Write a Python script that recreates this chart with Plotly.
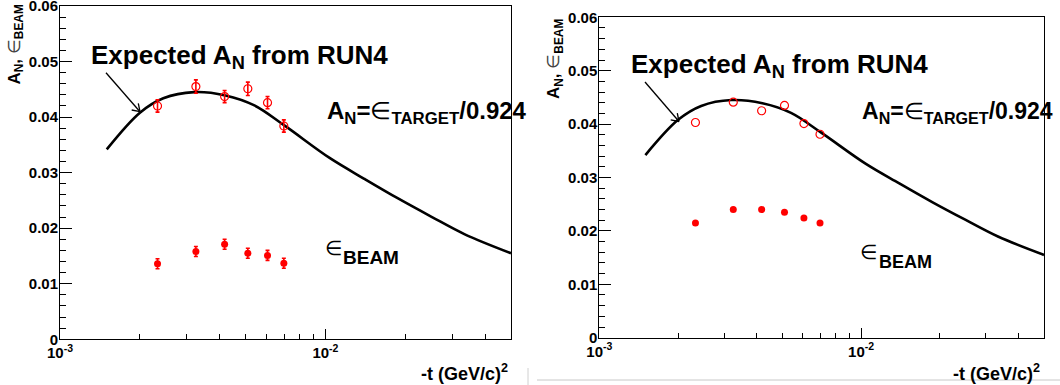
import plotly.graph_objects as go

W, H = 1060, 385

# ---------------- data ----------------
t_bins = [2.33e-3, 3.25e-3, 4.17e-3, 5.10e-3, 6.05e-3, 6.97e-3]

left_target = [0.0420, 0.0455, 0.0437, 0.0451, 0.0426, 0.0384]
left_target_err = [0.0011, 0.0012, 0.0011, 0.0012, 0.0011, 0.0011]
left_beam = [0.0136, 0.0158, 0.0171, 0.0155, 0.0151, 0.0137]
left_beam_err = [0.0009, 0.0009, 0.0009, 0.0009, 0.0009, 0.0009]

right_target = [0.0403, 0.0441, 0.0425, 0.0435, 0.0401, 0.0381]
right_beam = [0.0215, 0.0240, 0.0240, 0.0235, 0.0224, 0.0215]

curve_t = [1.5e-3, 2.0e-3, 2.45e-3, 3.2e-3, 4.2e-3, 5.4e-3, 7.0e-3,
           1.04e-2, 1.4e-2, 1.87e-2, 2.5e-2, 3.35e-2, 5.0e-2]
curve_an = [0.0342, 0.0408, 0.0434, 0.0445, 0.0439, 0.0421, 0.0385,
            0.0326, 0.0289, 0.0254, 0.0221, 0.0189, 0.0155]

x_major = [1e-3, 1e-2]
x_major_text = ["10<sup>-3</sup>", "10<sup>-2</sup>"]
x_minor = [2e-3, 3e-3, 4e-3, 5e-3, 6e-3, 7e-3, 8e-3, 9e-3, 2e-2, 3e-2, 4e-2]

FONT = "Liberation Sans"
RED = "#ff0000"


def px(x, y):
    return x / W, 1 - y / H


fig = go.Figure()

# ---------------- traces ----------------
for xa, ya in (("x", "y"), ("x2", "y2")):
    fig.add_trace(go.Scatter(x=curve_t, y=curve_an, mode="lines",
                             line=dict(color="black", width=2.6, shape="spline", smoothing=1.0),
                             xaxis=xa, yaxis=ya, showlegend=False, hoverinfo="skip"))

fig.add_trace(go.Scatter(x=t_bins, y=left_target, mode="markers",
                         marker=dict(symbol="circle-open", size=8, color=RED, line=dict(width=1.2, color=RED)),
                         error_y=dict(type="data", array=left_target_err, color=RED, thickness=1.6, width=2),
                         xaxis="x", yaxis="y", showlegend=False))
fig.add_trace(go.Scatter(x=t_bins, y=left_beam, mode="markers",
                         marker=dict(symbol="circle", size=7, color=RED),
                         error_y=dict(type="data", array=left_beam_err, color=RED, thickness=1.6, width=2),
                         xaxis="x", yaxis="y", showlegend=False))
fig.add_trace(go.Scatter(x=t_bins, y=right_target, mode="markers",
                         marker=dict(symbol="circle-open", size=8, color=RED, line=dict(width=1.2, color=RED)),
                         xaxis="x2", yaxis="y2", showlegend=False))
fig.add_trace(go.Scatter(x=t_bins, y=right_beam, mode="markers",
                         marker=dict(symbol="circle", size=7, color=RED),
                         xaxis="x2", yaxis="y2", showlegend=False))

# ---------------- axes ----------------
def xaxis(domain, anchor):
    return dict(type="log", range=[-3, -1.30103], domain=domain, anchor=anchor,
                tickmode="array", tickvals=x_major, ticktext=x_major_text,
                ticks="inside", ticklen=10, tickwidth=1, tickcolor="black",
                minor=dict(tickmode="array", tickvals=x_minor, ticks="inside", ticklen=5,
                           tickwidth=1, tickcolor="black", showgrid=False),
                showline=True, linecolor="black", linewidth=1, mirror=True,
                showgrid=False, zeroline=False, automargin=False, ticklabeloverflow="allow",
                tickfont=dict(family=FONT, size=15, color="black", weight="bold"))


def yaxis(domain, anchor):
    return dict(range=[0, 0.06], domain=domain, anchor=anchor,
                tickmode="linear", tick0=0, dtick=0.01,
                ticks="inside", ticklen=12, tickwidth=1, tickcolor="black",
                minor=dict(tickmode="linear", dtick=0.002, ticks="inside", ticklen=6,
                           tickwidth=1, tickcolor="black", showgrid=False),
                showline=True, linecolor="black", linewidth=1, mirror=True,
                showgrid=False, zeroline=False, ticklabelstandoff=-2, automargin=False,
                ticklabeloverflow="allow",
                tickfont=dict(family=FONT, size=15, color="black", weight="bold"))


fig.update_layout(
    width=W, height=H, margin=dict(l=0, r=0, t=0, b=0, pad=0, autoexpand=False),
    paper_bgcolor="white", plot_bgcolor="white",
    xaxis=xaxis([60 / W, 511 / W], "y"),
    yaxis=yaxis([1 - 339.3 / H, 1 - 6 / H], "x"),
    xaxis2=xaxis([599.3 / W, 1044 / W], "y2"),
    yaxis2=yaxis([1 - 337.7 / H, 1 - 17.3 / H], "x2"),
)

# ---------------- annotations ----------------
ann = []


def add_text(text, x, y, size, xanchor="left", bold=True, angle=0):
    xx, yy = px(x, y)
    ann.append(dict(text=text, x=xx, y=yy, xref="paper", yref="paper", showarrow=False,
                    xanchor=xanchor, yanchor="middle", textangle=angle,
                    font=dict(family=FONT, size=size, color="black",
                              weight="bold" if bold else "normal")))


for x0, y0 in ((89, 56), (629, 65.5)):
    add_text("Expected A<sub>N</sub> from RUN4", x0, y0, 26)

for x0, y0, fs in ((325, 112, 24), (860, 112.5, 23)):
    add_text("A<sub>N</sub>=<span style='font-weight:normal'>∈</span><sub>TARGET</sub>/0.924", x0, y0, fs)

for (ex, ey), (bx, by), bs in (((333.5, 248), (341, 257.5), 19), ((868.5, 252), (877, 262), 18)):
    add_text("∈", ex, ey, 20, xanchor="center", bold=False)
    add_text("BEAM", bx, by, bs)

for x0, y0 in ((16, 44.5), (555, 59)):
    add_text("A<sub>N</sub>, <span style='font-weight:normal;fill:#444'>∈</span><sub>BEAM</sub>",
             x0, y0, 17, xanchor="center", angle=-90)

for x0 in (510, 1042):
    add_text("-t (GeV/c)<sup>2</sup>", x0, 372.5, 18, xanchor="right")

fig.update_layout(annotations=ann)

# ---------------- arrows & decorations ----------------
shapes = []


def seg(x0, y0, x1, y1, color="black", width=1.3):
    a = px(x0, y0)
    b = px(x1, y1)
    shapes.append(dict(type="line", xref="paper", yref="paper", x0=a[0], y0=a[1],
                       x1=b[0], y1=b[1], line=dict(color=color, width=width)))


for (sx, sy), (tx, ty) in (((106, 72.7), (140, 111.7)), ((645, 82), (679, 121.5))):
    seg(sx, sy, tx, ty)
    seg(tx - 8.3, ty - 1.7, tx, ty)
    seg(tx - 1.7, ty - 8.4, tx, ty)

seg(537, 380, 1060, 380, color="#c8c8c8", width=1)
seg(528, 368, 528, 385, color="#d0d0d0", width=1)

fig.update_layout(shapes=shapes)

fig.write_html("out.html")
